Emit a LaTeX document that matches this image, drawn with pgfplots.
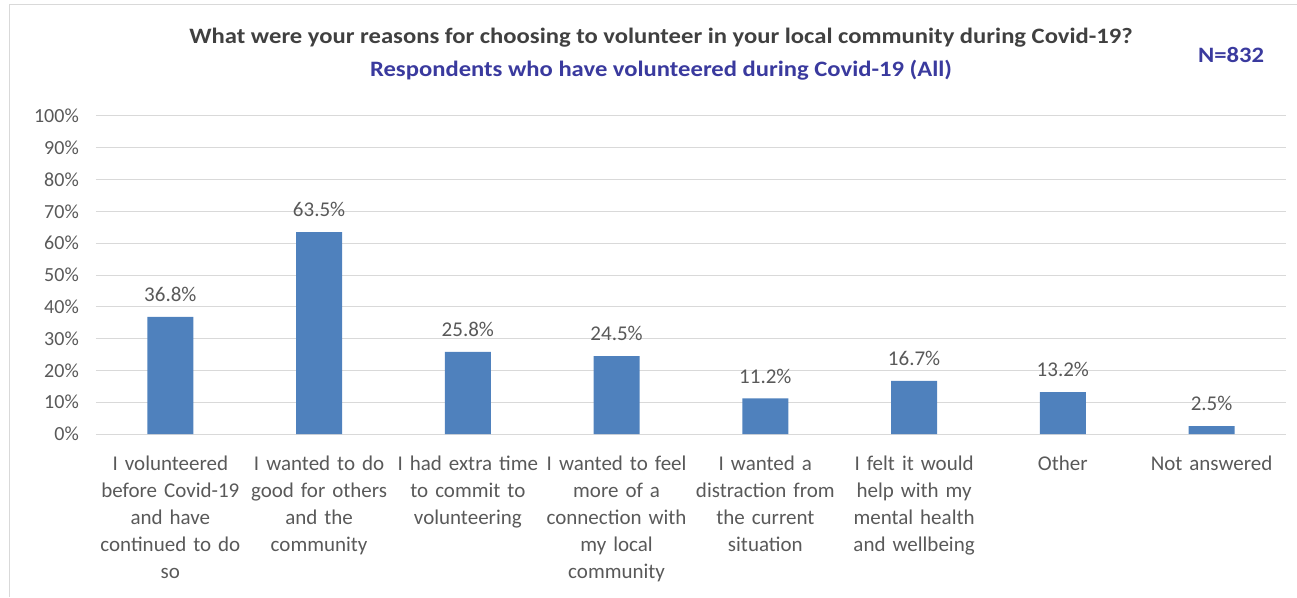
\documentclass[border=0pt]{standalone}
\usepackage{pgfplots}
\pgfplotsset{compat=1.18}
\usepackage{fontspec}
\setmainfont{Carlito}
\newfontfamily\ttlfont[FakeStretch=1.12]{Carlito}
\definecolor{barblue}{HTML}{4F81BD}
\definecolor{txtgray}{HTML}{595959}
\definecolor{gridgray}{HTML}{D9D9D9}
\definecolor{ttlgray}{HTML}{404040}
\definecolor{subblue}{HTML}{3A3A9E}
\begin{document}
\begin{tikzpicture}
\path[use as bounding box] (-96pt,-163pt) rectangle (1201pt,434pt);
\draw[gridgray, line width=1pt] (-86pt,-163pt) -- (-86pt,429pt) -- (1201pt,429pt);
\begin{axis}[at={(0pt,0pt)}, anchor=south west, scale only axis,
  width=1190pt, height=318pt,
  xmin=-0.5, xmax=7.5, ymin=0, ymax=100,
  ytick={0,10,...,100},
  yticklabels={0\%,10\%,20\%,30\%,40\%,50\%,60\%,70\%,80\%,90\%,100\%},
  xtick={0,...,7},
  xticklabels={{I volunteered\\before Covid-19\\and have\\continued to do\\so},
    {I wanted to do\\good for others\\and the\\community},
    {I had extra time\\to commit to\\volunteering},
    {I wanted to feel\\more of a\\connection with\\my local\\community},
    {I wanted a\\distraction from\\the current\\situation},
    {I felt it would\\help with my\\mental health\\and wellbeing},
    {Other},{Not answered}},
  axis line style={draw=none},
  major tick length=0pt,
  ymajorgrids, major grid style={gridgray, line width=1pt},
  yticklabel style={font=\fontsize{20}{24}\selectfont, text=txtgray, anchor=east, inner sep=0pt, xshift=-17pt},
  xticklabel style={font=\fontsize{21}{27}\selectfont, text=txtgray, anchor=north, inner sep=0pt, yshift=-22pt, text width=150pt, align=center},
  clip=false,
  nodes near coords={\pgfmathprintnumber[fixed,fixed zerofill,precision=1,assume math mode=true]{\pgfplotspointmeta}\%},
  nodes near coords style={font=\fontsize{21}{25}\selectfont, text=txtgray, anchor=south, inner sep=0pt, yshift=15pt},
]
\addplot[ybar, bar width=46pt, bar shift=0pt, fill=barblue, draw=none] coordinates {
(0,36.8) (1,63.5) (2,25.8) (3,24.5) (4,11.2) (5,16.7) (6,13.2) (7,2.5)};
\end{axis}
\node[font=\ttlfont\bfseries\fontsize{22}{26}\selectfont, text=ttlgray] at (565pt,396pt) {What were your reasons for choosing to volunteer in your local community during Covid-19?};
\node[font=\ttlfont\bfseries\fontsize{22}{26}\selectfont, text=subblue] at (565pt,364pt) {Respondents who have volunteered during Covid-19 (All)};
\node[font=\ttlfont\bfseries\fontsize{22}{26}\selectfont, text=subblue] at (1135pt,379pt) {N=832};
\end{tikzpicture}
\end{document}
